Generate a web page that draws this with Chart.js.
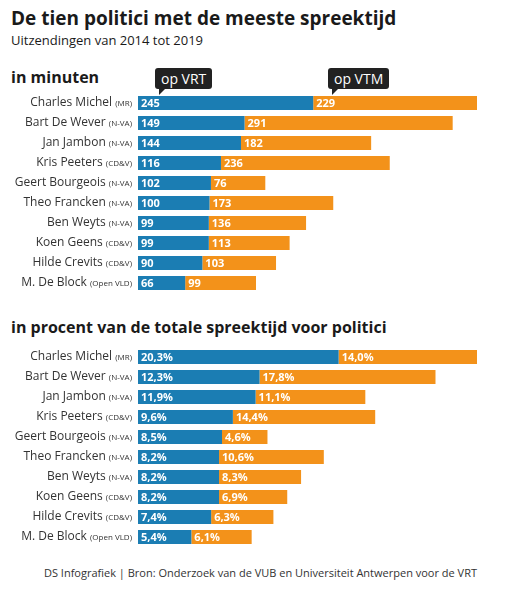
<!DOCTYPE html>
<html><head><meta charset="utf-8">
<script src="https://cdn.jsdelivr.net/npm/chart.js@4"></script>
<style>
body{margin:0;width:511px;height:590px;background:#fff;font-family:"Open Sans",sans-serif;position:relative;overflow:hidden;color:#1a1a1a}
.abs{position:absolute}
.tip{position:absolute;background:#222;color:#fff;font-size:14px;padding:1px 6px;border-radius:3px;line-height:19px}
.tip:after{content:"";position:absolute;left:4px;bottom:-6px;border-left:0 solid transparent;border-right:6px solid transparent;border-top:6px solid #222}
</style></head><body>
<div class="abs" style="left:11px;top:5px;font-size:19px;font-weight:bold">De tien politici met de meeste spreektijd</div>
<div class="abs" style="left:11px;top:31px;font-size:13px">Uitzendingen van 2014 tot 2019</div>
<div class="abs" style="left:11px;top:66px;font-size:16px;font-weight:bold">in minuten</div>
<div class="tip" style="left:155px;top:68px">op VRT</div>
<div class="tip" style="left:328px;top:68px">op VTM</div>
<div class="abs" style="left:11px;top:316px;font-size:16px;font-weight:bold">in procent van de totale spreektijd voor politici</div>
<div class="abs" style="right:34px;top:565px;font-size:11px;color:#333">DS Infografiek | Bron: Onderzoek van de VUB en Universiteit Antwerpen voor de VRT</div>
<div class="abs" style="left:0;top:93px;width:511px;height:200px"><canvas id="c1"></canvas></div>
<div class="abs" style="left:0;top:347px;width:511px;height:200px"><canvas id="c2"></canvas></div>
<script>
const names=["Charles Michel","Bart De Wever","Jan Jambon","Kris Peeters","Geert Bourgeois","Theo Francken","Ben Weyts","Koen Geens","Hilde Crevits","M. De Block"];
const parties=["(MR)","(N-VA)","(N-VA)","(CD&V)","(N-VA)","(N-VA)","(N-VA)","(CD&V)","(CD&V)","(Open VLD)"];
const vrtMin=[245,149,144,116,102,100,99,99,90,66];
const vtmMin=[229,291,182,236,76,173,136,113,103,99];
const vrtPct=[20.3,12.3,11.9,9.6,8.5,8.2,8.2,8.2,7.4,5.4];
const vtmPct=[14.0,17.8,11.1,14.4,4.6,10.6,8.3,6.9,6.3,6.1];
const BLUE="#1b7db3",ORANGE="#f3921a";
const plug={id:"lbl",afterDatasetsDraw(ch){
  const ctx=ch.ctx;const pct=ch.options.pct;
  ctx.save();ctx.textBaseline="middle";
  ch.data.datasets.forEach((ds,di)=>{ch.getDatasetMeta(di).data.forEach((b,i)=>{
    const x0=Math.min(b.base,b.x);ctx.fillStyle="#fff";ctx.font="bold 11px 'Open Sans'";ctx.textAlign="left";
    const v=ds.data[i];ctx.fillText(pct?v.toFixed(1).replace(".",",")+"%":String(v),x0+3,b.y+0.5);
  });});
  ch.getDatasetMeta(0).data.forEach((b,i)=>{
    ctx.textAlign="right";ctx.fillStyle="#333";
    ctx.font="8px 'Open Sans'";const pw=ctx.measureText(parties[i]).width;
    ctx.fillText(parties[i],132,b.y+1);
    ctx.font="12px 'Open Sans'";ctx.fillText(names[i]+" ",132-pw,b.y);
  });
  ctx.restore();}};
function mk(id,a,b,max,pct){
  new Chart(document.getElementById(id),{type:"bar",
    data:{labels:names,datasets:[{data:a,backgroundColor:BLUE},{data:b,backgroundColor:ORANGE}]},
    options:{pct,indexAxis:"y",responsive:true,maintainAspectRatio:false,animation:false,
      layout:{padding:{left:138,right:34,top:0,bottom:0}},
      datasets:{bar:{barPercentage:0.7,categoryPercentage:1}},
      plugins:{legend:{display:false},tooltip:{enabled:false}},
      scales:{x:{stacked:true,display:false,min:0,max},y:{stacked:true,display:false}}},
    plugins:[plug]});
}
mk("c1",vrtMin,vtmMin,474,false);
mk("c2",vrtPct,vtmPct,34.3,true);
</script></body></html>
